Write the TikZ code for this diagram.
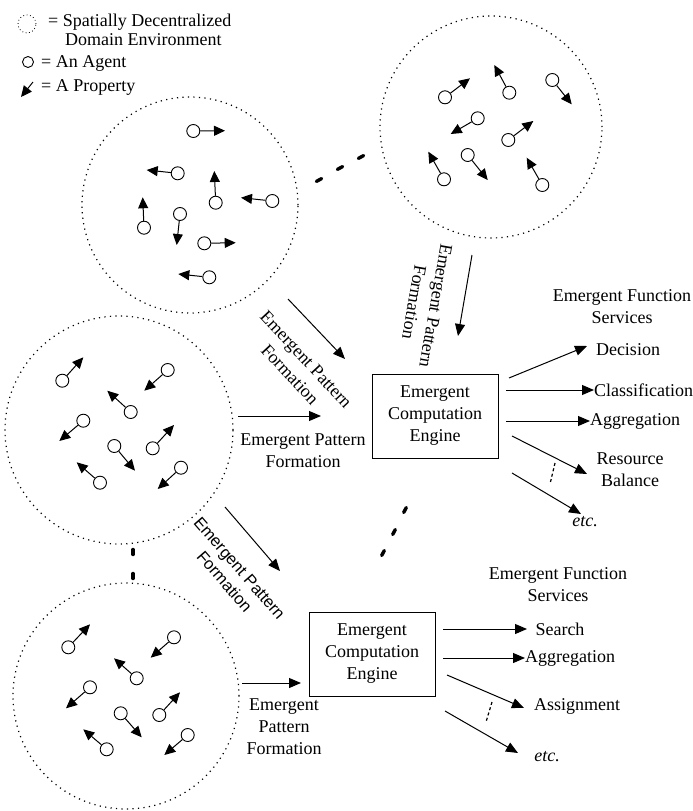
\documentclass[tikz,border=0pt]{standalone}
\usepackage{fontspec}
\setmainfont{Liberation Serif}
\setsansfont{Liberation Sans}
\usetikzlibrary{arrows.meta}
\newcommand\agentx[3]{%
  \node[agent] (#1) at (#2) {};
  \coordinate (#1t) at (#3);
  \draw[prop] (#1) -- (#1t);}
\begin{document}
\begin{tikzpicture}[x=1pt,y=-1pt,
  env/.style={circle,draw,line width=1.2pt,dash pattern=on 1.2pt off 4.3pt,inner sep=0},
  agent/.style={circle,draw,line width=0.9pt,minimum size=13pt,inner sep=0},
  prop/.style={line width=1pt,-{Triangle[length=11pt,width=10pt]}},
  flow/.style={line width=1pt,-{Triangle[length=12pt,width=10pt]}},
  txt/.style={font=\fontsize{18}{22}\selectfont,inner sep=0,align=center},
  sanstxt/.style={font=\sffamily\fontsize{16.5}{20}\selectfont,inner sep=0,align=center},
  engine/.style={draw,line width=1pt,minimum width=126pt,minimum height=84pt,inner sep=0,
     font=\fontsize{18}{22}\selectfont,align=center},
  gap/.style={line width=3.4pt,line cap=round},
  thindash/.style={line width=1.2pt,dash pattern=on 3pt off 2.5pt}]
\useasboundingbox (0,0) rectangle (693,811);

% ---------- legend ----------
\node[env,line width=0.8pt,dash pattern=on 0.8pt off 2.6pt,minimum size=18pt] (legenv) at (27,24) {};
\node[txt,anchor=base west] (legt1) at (48,27) {= Spatially Decentralized};
\node[txt,anchor=base west] (legt2) at (65,45) {Domain Environment};
\node[agent,minimum size=11pt] (legag) at (28,62) {};
\node[txt,anchor=base west] (legt3) at (41,67) {= An Agent};
\coordinate (legpa) at (33,82);
\coordinate (legpb) at (21,97);
\draw[prop] (legpa) -- (legpb);
\node[txt,anchor=base west] (legt4) at (41,91) {= A Property};

% ---------- environments ----------
\node[env,minimum size=216pt] (env1) at (190,205) {};
\node[env,minimum size=222pt] (env2) at (491,127) {};
\node[env,minimum size=228pt] (env3) at (119,430) {};
\node[env,minimum size=226pt] (env4) at (126,696) {};

% agents env1
\agentx{g1a}{193.3,131}{225,130.7}
\agentx{g1b}{177.7,173.3}{146.7,170}
\agentx{g1c}{215.7,202.7}{214.3,171}
\agentx{g1d}{272.3,201}{241,197.7}
\agentx{g1e}{144,227.7}{142.7,197.3}
\agentx{g1f}{180,214}{176.7,245}
\agentx{g1g}{204.3,243.3}{235.7,242.7}
\agentx{g1h}{209.3,277.3}{178.3,274}
% agents env2
\agentx{g2a}{445,97.3}{470,78.3}
\agentx{g2b}{509.3,92.7}{494.3,65}
\agentx{g2c}{552.3,80}{571.7,104.3}
\agentx{g2d}{477.7,118.3}{450.7,134}
\agentx{g2e}{508.3,140}{533.3,121}
\agentx{g2f}{444,179.3}{428.3,151.7}
\agentx{g2g}{467.7,155}{487.7,180}
\agentx{g2h}{542.3,185}{526.7,157.7}
% agents env3
\agentx{g3a}{62.3,380.7}{83.3,357.3}
\agentx{g3b}{167.7,370}{144.3,390.7}
\agentx{g3c}{130.7,412}{107.3,390.7}
\agentx{g3d}{83.3,420.7}{59.3,441}
\agentx{g3e}{114.3,446}{135,470.7}
\agentx{g3f}{152.7,448.3}{174,425}
\agentx{g3g}{100,482.7}{76.7,462.3}
\agentx{g3h}{181,467.7}{157.7,489}
% agents env4
\agentx{g4a}{68.3,647.3}{90,624.3}
\agentx{g4b}{174,637.3}{150.7,657.7}
\agentx{g4c}{136.7,678.3}{114,658.3}
\agentx{g4d}{90,687.3}{66,708.3}
\agentx{g4e}{120.7,713.3}{141.7,737.3}
\agentx{g4f}{159.3,715}{180,692.3}
\agentx{g4g}{106.7,749.3}{83.3,729.3}
\agentx{g4h}{187.7,735}{164.3,755}

% ---------- ellipsis marks ----------
\coordinate (d1a) at (316.4,181.4); \coordinate (d1b) at (321.6,178.6);
\coordinate (d2a) at (337.4,169.4); \coordinate (d2b) at (342.6,166.6);
\coordinate (d3a) at (358.4,158.4); \coordinate (d3b) at (363.6,155.6);
\draw[gap] (d1a) -- (d1b); \draw[gap] (d2a) -- (d2b); \draw[gap] (d3a) -- (d3b);
\coordinate (d4a) at (406.3,507.5); \coordinate (d4b) at (403.7,512.5);
\coordinate (d5a) at (395.3,529.5); \coordinate (d5b) at (392.7,534.5);
\coordinate (d6a) at (384.3,550.5); \coordinate (d6b) at (381.7,555.5);
\draw[gap] (d4a) -- (d4b); \draw[gap] (d5a) -- (d5b); \draw[gap] (d6a) -- (d6b);
\coordinate (d7a) at (133,549.5); \coordinate (d7b) at (133,554.5);
\coordinate (d8a) at (133,573.5); \coordinate (d8b) at (133,578.5);
\draw[gap] (d7a) -- (d7b); \draw[gap] (d8a) -- (d8b);

% ---------- engines ----------
\node[engine] (eng1) at (435,416) {Emergent\\Computation\\Engine};
\node[engine] (eng2) at (372,654) {Emergent\\Computation\\Engine};

% ---------- pattern formation arrows ----------
\coordinate (p1s) at (288,299); \coordinate (p1e) at (345,359);
\draw[flow] (p1s) -- (p1e);
\coordinate (p2s) at (472,255); \coordinate (p2e) at (458,336);
\draw[flow] (p2s) -- (p2e);
\coordinate (p3s) at (238,416); \coordinate (p3e) at (321,416);
\draw[flow] (p3s) -- (p3e);
\coordinate (p4s) at (225,507); \coordinate (p4e) at (280,571);
\draw[flow] (p4s) -- (p4e);
\coordinate (p5s) at (242,683); \coordinate (p5e) at (301,683);
\draw[flow] (p5s) -- (p5e);

\node[txt,rotate=-47] (lab1) at (298,367) {Emergent Pattern\\Formation};
\node[txt,rotate=-100] (lab2) at (425,304) {Emergent Pattern\\Formation};
\node[txt] (lab3) at (303,451) {Emergent Pattern\\Formation};
\node[sanstxt,rotate=-49] (lab4) at (232,575) {Emergent Pattern\\Formation};
\node[txt] (lab5) at (284,727) {Emergent\\Pattern\\Formation};

% ---------- services 1 ----------
\node[txt] (srv1) at (622,307) {Emergent Function\\Services};
\node[txt] (s1a) at (628,350) {Decision};
\node[txt,anchor=west] (s1b) at (594,390) {Classification};
\node[txt,anchor=west] (s1c) at (590,421) {Aggregation};
\node[txt] (s1d) at (630,470) {Resource\\Balance};
\node[txt,font=\itshape\fontsize{18}{22}\selectfont] (s1e) at (585,522) {etc.};
\coordinate (o1a) at (509,378); \coordinate (o1ae) at (587,346); \draw[flow] (o1a) -- (o1ae);
\coordinate (o1b) at (506,390); \draw[flow] (o1b) -- (s1b.west);
\coordinate (o1c) at (506,421); \draw[flow] (o1c) -- (s1c.west);
\coordinate (o1d) at (512,436); \coordinate (o1de) at (587,474); \draw[flow] (o1d) -- (o1de);
\coordinate (o1e) at (512,473); \coordinate (o1ee) at (581,514); \draw[flow] (o1e) -- (o1ee);
\coordinate (k1a) at (555,463); \coordinate (k1b) at (550,484);
\draw[thindash] (k1a) -- (k1b);

% ---------- services 2 ----------
\node[txt] (srv2) at (558,585) {Emergent Function\\Services};
\node[txt] (s2a) at (560,629) {Search};
\node[txt,anchor=west] (s2b) at (525,658) {Aggregation};
\node[txt] (s2c) at (577,706) {Assignment};
\node[txt,font=\itshape\fontsize{18}{22}\selectfont] (s2d) at (547,757) {etc.};
\coordinate (o2a) at (443,629); \coordinate (o2ae) at (527,629); \draw[flow] (o2a) -- (o2ae);
\coordinate (o2b) at (443,658); \draw[flow] (o2b) -- (s2b.west);
\coordinate (o2c) at (447,675); \coordinate (o2ce) at (524,708); \draw[flow] (o2c) -- (o2ce);
\coordinate (o2d) at (445,711); \coordinate (o2de) at (518,753); \draw[flow] (o2d) -- (o2de);
\coordinate (k2a) at (492,702); \coordinate (k2b) at (486,722);
\draw[thindash] (k2a) -- (k2b);
\end{tikzpicture}
\end{document}
